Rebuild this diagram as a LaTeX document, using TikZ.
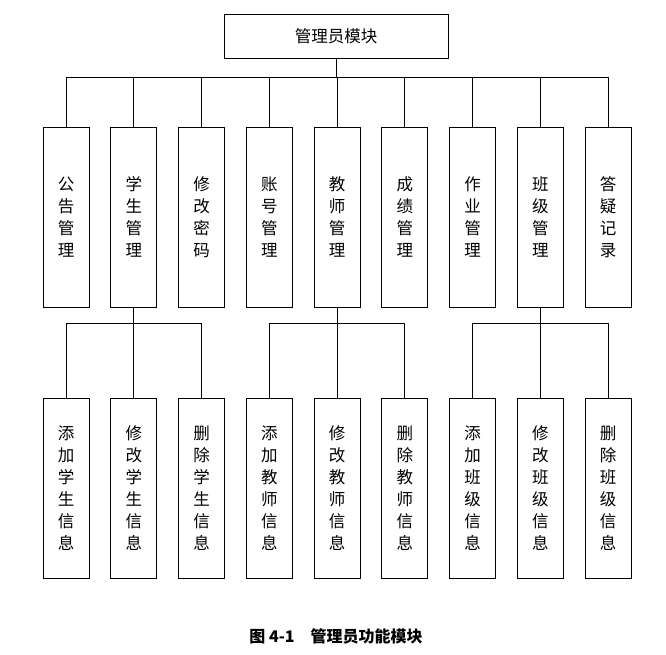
\documentclass[tikz,border=0pt]{standalone}
\usepackage{fontspec}
\setmainfont{Noto Sans CJK SC}
\begin{document}
\begin{tikzpicture}[x=1pt,y=-1pt,
  box/.style={draw,line width=0.6pt,minimum width=46pt,minimum height=180pt,inner sep=0pt,align=center,font=\fontsize{16.5}{22}\selectfont},
  ln/.style={line width=0.6pt}]
\useasboundingbox (0,0) rectangle (666,655);
\node[draw,line width=0.6pt,minimum width=224pt,minimum height=44pt,font=\fontsize{16.5}{18}\selectfont] (top) at (336,36) {管理员模块};
\foreach \i/\t in {1/公\\告\\管\\理,2/学\\生\\管\\理,3/修\\改\\密\\码,4/账\\号\\管\\理,5/教\\师\\管\\理,6/成\\绩\\管\\理,7/作\\业\\管\\理,8/班\\级\\管\\理,9/答\\疑\\记\\录}{
  \node[box] (a\i) at ({66+(\i-1)*67.75},217) {\t};
}
\foreach \i/\t in {1/添\\加\\学\\生\\信\\息,2/修\\改\\学\\生\\信\\息,3/删\\除\\学\\生\\信\\息,4/添\\加\\教\\师\\信\\息,5/修\\改\\教\\师\\信\\息,6/删\\除\\教\\师\\信\\息,7/添\\加\\班\\级\\信\\息,8/修\\改\\班\\级\\信\\息,9/删\\除\\班\\级\\信\\息}{
  \node[box] (b\i) at ({66+(\i-1)*67.75},488) {\t};
}
\coordinate (bus) at (0,77);
\draw[ln] (top.south) -- (top.south |- bus);
\draw[ln] (a1.north |- bus) -- (a9.north |- bus);
\foreach \i in {1,...,9}{\draw[ln] (a\i.north |- bus) -- (a\i.north);}
\coordinate (bus2) at (0,323);
\foreach \p/\l/\r in {2/1/3,5/4/6,8/7/9}{
  \draw[ln] (a\p.south) -- (a\p.south |- bus2);
  \draw[ln] (b\l.north |- bus2) -- (b\r.north |- bus2);
  \foreach \k in {\l,\p,\r}{\draw[ln] (b\k.north |- bus2) -- (b\k.north);}
}
\node[font=\fontsize{16}{18}\selectfont\bfseries] (cap) at (336,636) {图 4-1\quad 管理员功能模块};
\end{tikzpicture}
\end{document}
